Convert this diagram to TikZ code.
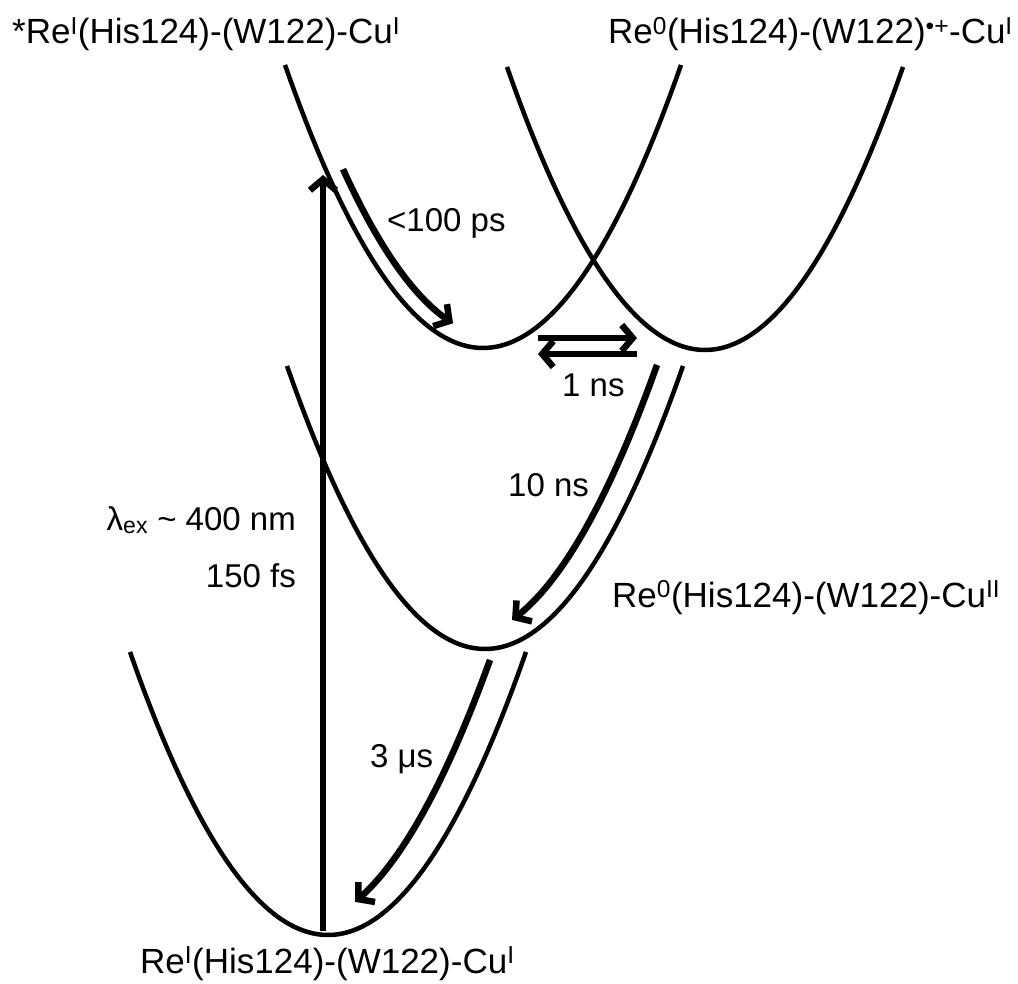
\documentclass[tikz,border=0pt]{standalone}
\usepackage{fontspec}
\setmainfont{Liberation Sans}
\usetikzlibrary{arrows.meta}
\newcommand{\supI}{\textsuperscript{I}}
\begin{document}
\begin{tikzpicture}[x=1pt,y=-1pt,
  curve/.style={line width=4.5pt},
  arr/.style={line width=6.5pt,-{Straight Barb[length=11pt,width=26pt]}},
  lbl/.style={inner sep=0pt,font=\fontsize{35}{42}\selectfont},
  tlbl/.style={inner sep=0pt,font=\fontsize{33}{40}\selectfont}]
\useasboundingbox (0,0) rectangle (1018,984);
% potential curves
\draw[curve] plot[domain=285:681,samples=90] (\x,{348-72.2*((\x-483)/100)^2});
\draw[curve] plot[domain=507:903,samples=90] (\x,{350-72.2*((\x-705)/100)^2});
\draw[curve] plot[domain=287:683,samples=90] (\x,{649-72.2*((\x-485)/100)^2});
\draw[curve] plot[domain=130:526,samples=90] (\x,{935-72.2*((\x-328)/100)^2});
% excitation
\coordinate (exS) at (323,931);
\coordinate (exE) at (323,175);
\draw[arr] (exS) -- (exE);
% relaxation arrows
\draw[arr] plot[domain=343:453,samples=40] (\x,{336-72.2*((\x-495)/100)^2});
\draw[arr] plot[domain=657:512,samples=40] (\x,{637.5-72.2*((\x-462.7)/100)^2});
\draw[arr] plot[domain=490:355,samples=40] (\x,{925-72.2*((\x-298.4)/100)^2});
% equilibrium
\coordinate (eqA) at (538,338);
\coordinate (eqB) at (637,338);
\coordinate (eqC) at (637,354);
\coordinate (eqD) at (538,354);
\draw[arr] (eqA) -- (eqB);
\draw[arr] (eqC) -- (eqD);
% labels
\node[lbl,anchor=base west] (t1) at (12,44) {*Re\supI(His124)-(W122)-Cu\supI};
\node[lbl,anchor=base east] (t2) at (1013,44) {Re\textsuperscript{0}(His124)-(W122)\textsuperscript{•+}-Cu\supI};
\node[lbl,anchor=base west] (t3) at (612,607) {Re\textsuperscript{0}(His124)-(W122)-Cu\textsuperscript{II}};
\node[lbl,anchor=base west] (t4) at (140,973) {Re\supI(His124)-(W122)-Cu\supI};
\node[tlbl,anchor=base west] (k1) at (387,232) {<100 ps};
\node[tlbl,anchor=base west] (k2) at (562,397) {1 ns};
\node[tlbl,anchor=base west] (k3) at (508,496) {10 ns};
\node[tlbl,anchor=base west] (k4) at (370,767) {3 μs};
\node[tlbl,anchor=base east] (k5) at (296,530) {λ\textsubscript{ex} \textasciitilde{} 400 nm};
\node[tlbl,anchor=base east] (k6) at (296,587) {150 fs};
\end{tikzpicture}
\end{document}
